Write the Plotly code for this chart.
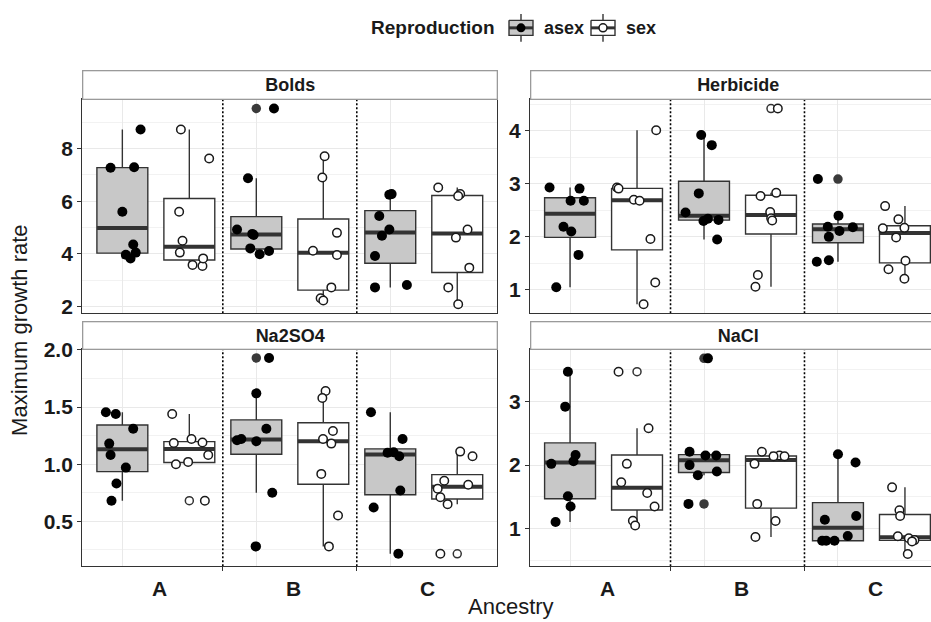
import numpy as np
import plotly.graph_objects as go

# ---------------------------------------------------------------------------
# Data: maximum growth rate per replicate line, grouped by ancestry (A, B, C)
# and reproduction mode.  *_jit is the horizontal jitter of each plotted point.
# ---------------------------------------------------------------------------
ANCESTRY = ["A", "B", "C"]
REPRODUCTION = ["asex", "sex"]
PANELS = ["Bolds", "Herbicide", "Na2SO4", "NaCl"]

bolds_asex = [
    [8.72, 7.27, 7.29, 5.60, 4.36, 4.05, 3.97, 3.83],
    [9.52, 6.87, 4.93, 4.76, 4.72, 4.21, 4.11, 3.99],
    [6.27, 6.25, 5.44, 4.93, 4.69, 3.92, 2.82, 2.73],
]
bolds_asex_jit = [
    [0.136, -0.088, 0.088, 0.000, 0.081, 0.100, 0.026, 0.061],
    [0.132, -0.062, -0.144, -0.030, -0.020, -0.045, 0.095, 0.025],
    [0.010, -0.007, -0.082, -0.007, -0.062, -0.114, 0.124, -0.114],
]
bolds_sex = [
    [8.72, 7.62, 5.60, 4.50, 4.05, 3.58, 3.54, 3.83],
    [7.71, 6.90, 4.80, 4.12, 3.96, 2.73, 2.32, 2.23],
    [6.52, 6.27, 6.20, 4.93, 4.62, 3.48, 2.73, 2.09],
]
bolds_sex_jit = [
    [-0.063, 0.148, -0.076, -0.051, -0.071, 0.024, 0.098, 0.103],
    [0.010, -0.007, 0.102, -0.077, 0.102, 0.060, -0.020, 0.000],
    [-0.142, 0.022, 0.007, 0.077, -0.010, 0.090, -0.067, 0.007],
]

herbicide_asex = [
    [2.93, 2.91, 2.68, 2.68, 2.19, 2.10, 1.66, 1.05],
    [3.92, 3.73, 2.82, 2.46, 2.34, 2.32, 2.30, 1.95],
    [3.09, 2.40, 2.19, 2.18, 2.11, 2.00, 1.56, 1.53],
]
herbicide_asex_jit = [
    [-0.153, 0.071, 0.004, 0.103, -0.049, 0.009, 0.063, -0.103],
    [-0.021, 0.058, -0.039, -0.138, 0.029, 0.108, -0.004, 0.098],
    [-0.150, 0.004, -0.076, 0.111, 0.011, -0.068, -0.068, -0.158],
]
herbicide_sex = [
    [4.01, 2.93, 2.91, 2.70, 2.68, 1.96, 1.14, 0.73],
    [4.42, 2.83, 2.77, 2.47, 2.35, 2.31, 1.28, 1.06],
    [2.58, 2.33, 2.17, 2.16, 1.99, 1.55, 1.39, 1.21],
]
herbicide_sex_jit = [
    [0.143, -0.150, -0.138, -0.024, 0.019, 0.100, 0.136, 0.049],
    [0.051, 0.039, -0.078, -0.006, 0.001, 0.009, -0.098, -0.116],
    [-0.148, -0.049, -0.004, -0.165, -0.066, 0.004, -0.123, -0.004],
]

na2so4_asex = [
    [1.455, 1.44, 1.31, 1.18, 1.08, 0.97, 0.83, 0.68],
    [1.93, 1.62, 1.31, 1.22, 1.21, 1.20, 0.75, 0.28],
    [1.455, 1.22, 1.105, 1.10, 1.07, 0.77, 0.62, 0.215],
]
na2so4_asex_jit = [
    [-0.123, -0.049, 0.081, -0.098, -0.088, 0.026, -0.044, -0.081],
    [0.095, 0.000, 0.075, -0.112, -0.144, 0.000, 0.119, -0.005],
    [-0.144, 0.092, 0.025, -0.020, 0.067, 0.075, -0.124, 0.060],
]
na2so4_sex = [
    [1.44, 1.22, 1.19, 1.185, 1.08, 1.02, 1.00, 0.68],
    [1.64, 1.58, 1.29, 1.22, 1.18, 0.915, 0.55, 0.28],
    [1.11, 1.07, 0.855, 0.82, 0.785, 0.71, 0.65, 0.215],
]
na2so4_sex_jit = [
    [-0.128, 0.016, 0.098, -0.116, 0.141, -0.009, -0.100, 0.116],
    [0.017, -0.007, 0.072, -0.002, 0.060, -0.015, 0.110, 0.042],
    [0.022, 0.114, -0.097, 0.082, -0.146, -0.126, -0.072, -0.126],
]

nacl_asex = [
    [3.47, 2.92, 2.16, 2.06, 2.02, 1.51, 1.35, 1.105],
    [3.68, 2.21, 2.15, 2.15, 2.00, 1.90, 1.84, 1.39],
    [2.17, 2.04, 1.20, 1.14, 0.885, 0.81, 0.81, 0.81],
]
nacl_asex_jit = [
    [-0.016, -0.036, 0.041, 0.026, -0.140, -0.016, 0.004, -0.108],
    [0.029, -0.108, 0.011, 0.091, -0.108, 0.096, -0.046, -0.116],
    [0.000, 0.131, 0.136, -0.098, 0.073, -0.118, -0.088, -0.026],
]
nacl_sex = [
    [3.47, 2.58, 2.02, 1.73, 1.56, 1.35, 1.125, 1.05],
    [2.21, 2.15, 2.14, 2.14, 2.02, 1.39, 1.12, 0.87],
    [1.65, 1.29, 1.20, 0.88, 0.85, 0.82, 0.80, 0.60],
]
nacl_sex_jit = [
    [-0.138, 0.086, -0.076, -0.118, 0.076, 0.131, -0.031, -0.014],
    [-0.068, 0.063, 0.019, 0.101, -0.123, -0.103, 0.034, -0.116],
    [-0.096, -0.041, -0.036, -0.053, 0.029, 0.071, 0.053, 0.021],
]

bolds_yticks = [2, 4, 6, 8]
herbicide_yticks = [1, 2, 3, 4]
na2so4_yticks = [0.5, 1.0, 1.5, 2.0]
nacl_yticks = [1, 2, 3]

# ---------------------------------------------------------------------------
# Look & geometry
# ---------------------------------------------------------------------------
W, H = 931, 622
FONT = "Liberation Sans, Arial, Helvetica, sans-serif"
INK = "#333333"
TXT = "#1a1a1a"
GRID = "#e9e9e9"
GRID_MINOR = "#f2f2f2"
STRIP_LINE = "#9a9a9a"
FILL = {"asex": "#c8c8c8", "sex": "#ffffff"}
DODGE = {"asex": -0.25, "sex": 0.25}
BOX_W = 0.38
TICK_FONT = dict(size=21, color=TXT, weight="bold")


def px(x):
    return x / W


def py(y):
    return 1 - y / H


COLS = [(82.3, 497.3), (530.0, 945.0)]           # panel left/right (px)
ROWS = [(91.2, 310.7), (347.2, 569.9)]           # panel top/bottom (px)
STRIP_TOP = [62.8, 319.3]
UNIT = (COLS[0][1] - COLS[0][0]) / 3.098          # px per ancestry step
X0 = 0.451
XLAB_Y, XTITLE_Y, YTITLE_Y = 592.7, 611.2, 327.8

panel_cfg = {
    "Bolds": dict(data=(bolds_asex, bolds_asex_jit, bolds_sex, bolds_sex_jit),
                  ticks=bolds_yticks, yr=[1.75, 9.88], minor=1.0, fmt="d", row=0, col=0),
    "Herbicide": dict(data=(herbicide_asex, herbicide_asex_jit, herbicide_sex, herbicide_sex_jit),
                      ticks=herbicide_yticks, yr=[0.56, 4.60], minor=0.5, fmt="d", row=0, col=1),
    "Na2SO4": dict(data=(na2so4_asex, na2so4_asex_jit, na2so4_sex, na2so4_sex_jit),
                   ticks=na2so4_yticks, yr=[0.107, 2.01], minor=0.25, fmt=".1f", row=1, col=0),
    "NaCl": dict(data=(nacl_asex, nacl_asex_jit, nacl_sex, nacl_sex_jit),
                 ticks=nacl_yticks, yr=[0.41, 3.83], minor=0.5, fmt="d", row=1, col=1),
}

fig = go.Figure()
layout = dict(
    width=W, height=H,
    margin=dict(l=0, r=0, t=0, b=0),
    paper_bgcolor="white", plot_bgcolor="white",
    showlegend=False,
    font=dict(family=FONT, color=TXT),
)
annotations = []

for k, name in enumerate(PANELS):
    cfg = panel_cfg[name]
    sfx = "" if k == 0 else str(k + 1)
    xa, ya = "x" + sfx, "y" + sfx
    left, right = COLS[cfg["col"]]
    top, bottom = ROWS[cfg["row"]]
    clipped = right > W                      # right-hand facets run off the page
    dom_right = min(right, W)
    xr = [X0, X0 + (dom_right - left) / UNIT]
    yr = cfg["yr"]
    is_bottom = cfg["row"] == 1

    # major x grid sits on the asexual boxes; group dividers carry the ticks
    layout["xaxis" + sfx] = dict(
        domain=[px(left), px(dom_right)], range=xr, anchor=ya,
        tickmode="array", tickvals=[i + 1 + DODGE["asex"] for i in range(len(ANCESTRY))],
        showticklabels=False, ticks="",
        showgrid=True, gridcolor=GRID, gridwidth=1.2, zeroline=False,
        showline=True, linecolor=INK, linewidth=1.4, mirror=True,
        minor=dict(tickmode="array", tickvals=[1.5, 2.5] if is_bottom else [],
                   ticks="outside" if is_bottom else "", ticklen=4,
                   tickcolor=INK, tickwidth=1, showgrid=False),
    )
    layout["yaxis" + sfx] = dict(
        domain=[py(bottom), py(top)], range=yr, anchor=xa,
        tickmode="array", tickvals=cfg["ticks"],
        ticktext=[format(t, cfg["fmt"]) if cfg["fmt"] != "d" else str(int(t)) for t in cfg["ticks"]],
        ticks="outside", ticklen=4, tickcolor=INK, tickwidth=1,
        tickfont=TICK_FONT,
        showgrid=True, gridcolor=GRID, gridwidth=1.2, zeroline=False,
        showline=True, linecolor=INK, linewidth=1.4, mirror=not clipped,
        minor=dict(dtick=cfg["minor"], tick0=0, showgrid=True,
                   gridcolor=GRID_MINOR, gridwidth=1, ticks=""),
    )

    # ancestry labels under the bottom row
    if is_bottom:
        for i, anc in enumerate(ANCESTRY):
            annotations.append(dict(text=anc, xref=xa, yref="paper", x=i + 1.03, y=py(XLAB_Y),
                                    showarrow=False, xanchor="center", yanchor="middle",
                                    font=TICK_FONT))

    # dotted dividers between ancestry groups
    dx, dy = [], []
    for xv in (1.5, 2.5):
        dx += [xv, xv, None]
        dy += [yr[0], yr[1], None]
    fig.add_trace(go.Scatter(x=dx, y=dy, mode="lines",
                             line=dict(color="black", width=1.6, dash="2px,2px"),
                             xaxis=xa, yaxis=ya, hoverinfo="skip"))

    # facet strip: a boxed label spanning the panel
    s_top = STRIP_TOP[cfg["row"]]
    annotations.append(dict(text="<b>%s</b>" % name, xref="paper", yref="paper",
                            x=px((left + right) / 2), y=py((top + s_top) / 2),
                            width=right - left - 1.3, height=top - s_top - 1.3,
                            bgcolor="white", bordercolor=STRIP_LINE, borderwidth=1.3,
                            borderpad=0, showarrow=False, font=dict(size=18, color=TXT),
                            xanchor="center", yanchor="middle", valign="middle"))

    asex_vals, asex_jit, sex_vals, sex_jit = cfg["data"]
    groups = {"asex": (asex_vals, asex_jit), "sex": (sex_vals, sex_jit)}

    for rep in REPRODUCTION:
        vals_by_anc, jit_by_anc = groups[rep]
        for g, anc in enumerate(ANCESTRY):
            v = np.asarray(vals_by_anc[g], dtype=float)
            pos = g + 1 + DODGE[rep]
            q1, med, q3 = np.percentile(v, [25, 50, 75])
            iqr = q3 - q1
            lo_lim, hi_lim = q1 - 1.5 * iqr, q3 + 1.5 * iqr
            inside = v[(v >= lo_lim) & (v <= hi_lim)]
            out = v[(v < lo_lim) | (v > hi_lim)]

            fig.add_trace(go.Box(
                x=[pos], q1=[q1], median=[med], q3=[q3],
                lowerfence=[inside.min()], upperfence=[inside.max()],
                width=BOX_W, whiskerwidth=0, boxpoints=False,
                fillcolor=FILL[rep], line=dict(color=INK, width=1.4),
                xaxis=xa, yaxis=ya, hoverinfo="skip", name=rep))
            fig.add_trace(go.Scatter(
                x=[pos - BOX_W / 2, pos + BOX_W / 2], y=[med, med], mode="lines",
                line=dict(color=INK, width=4), xaxis=xa, yaxis=ya, hoverinfo="skip"))
            if len(out):
                fig.add_trace(go.Scatter(
                    x=[pos] * len(out), y=out, mode="markers",
                    marker=dict(size=9.5 if rep == "asex" else 8,
                                color="#3a3a3a" if rep == "asex" else "white",
                                line=dict(color=INK, width=0 if rep == "asex" else 1.5)),
                    xaxis=xa, yaxis=ya, hoverinfo="skip"))

    for rep in REPRODUCTION:
        vals_by_anc, jit_by_anc = groups[rep]
        for g, anc in enumerate(ANCESTRY):
            v = np.asarray(vals_by_anc[g], dtype=float)
            xs = g + 1 + DODGE[rep] + np.asarray(jit_by_anc[g], dtype=float)
            fig.add_trace(go.Scatter(
                x=xs, y=v, mode="markers",
                marker=dict(size=10 if rep == "asex" else 8.5,
                            color="black" if rep == "asex" else "white",
                            line=dict(color="#1a1a1a", width=0 if rep == "asex" else 1.5)),
                xaxis=xa, yaxis=ya, hoverinfo="skip", name=rep))

# axis titles
annotations.append(dict(text="Maximum growth rate", xref="paper", yref="paper",
                        x=px(20), y=py(YTITLE_Y), textangle=-90, showarrow=False,
                        font=dict(size=22, color=TXT), xanchor="center", yanchor="middle"))
annotations.append(dict(text="Ancestry", xref="paper", yref="paper",
                        x=px(511), y=py(XTITLE_Y), showarrow=False,
                        font=dict(size=22, color=TXT), xanchor="center", yanchor="middle"))

# legend: title, then a small boxplot key per reproduction mode drawn on its own
# little pixel-scaled axis
LEG_Y = 18.3
LX0, LX1, LY0, LY1 = 500.0, 640.0, 0.0, 40.0
layout["xaxis5"] = dict(domain=[px(LX0), px(LX1)], range=[LX0, LX1], anchor="y5",
                        visible=False, fixedrange=True)
layout["yaxis5"] = dict(domain=[py(LY1), py(LY0)], range=[LY1, LY0], anchor="x5",
                        visible=False, fixedrange=True)
annotations.append(dict(text="<b>Reproduction</b>", xref="paper", yref="paper",
                        x=px(497), y=py(LEG_Y), showarrow=False, xanchor="right",
                        yanchor="middle", font=dict(size=19, color=TXT)))
for rep, kx, lx in (("asex", 521.0, 541.5), ("sex", 603.0, 624.0)):
    fig.add_trace(go.Scatter(x=[kx, kx], y=[LEG_Y - 14.3, LEG_Y + 14.3], mode="lines",
                             line=dict(color=INK, width=1.4),
                             xaxis="x5", yaxis="y5", hoverinfo="skip"))
    fig.add_trace(go.Scatter(x=[kx - 12, kx + 12, kx + 12, kx - 12, kx - 12],
                             y=[LEG_Y - 7.7, LEG_Y - 7.7, LEG_Y + 7.7, LEG_Y + 7.7, LEG_Y - 7.7],
                             mode="lines", fill="toself",
                             fillcolor=FILL[rep], line=dict(color=INK, width=1.4),
                             xaxis="x5", yaxis="y5", hoverinfo="skip"))
    fig.add_trace(go.Scatter(x=[kx - 12, kx + 12], y=[LEG_Y, LEG_Y], mode="lines",
                             line=dict(color=INK, width=3),
                             xaxis="x5", yaxis="y5", hoverinfo="skip"))
    fig.add_trace(go.Scatter(x=[kx], y=[LEG_Y], mode="markers",
                             marker=dict(size=9 if rep == "asex" else 8,
                                         color="black" if rep == "asex" else "white",
                                         line=dict(color="#1a1a1a",
                                                   width=0 if rep == "asex" else 1.5)),
                             xaxis="x5", yaxis="y5", hoverinfo="skip"))
    annotations.append(dict(text="<b>%s</b>" % rep, xref="paper", yref="paper",
                            x=px(lx), y=py(LEG_Y), showarrow=False, xanchor="left",
                            yanchor="middle", font=dict(size=18, color=TXT)))

layout["annotations"] = annotations
fig.update_layout(**layout)

# keep the page exactly the size of the figure (no body margin, no scrollbars)
PAGE_FIT = ("document.documentElement.style.margin='0';"
            "document.documentElement.style.overflow='hidden';"
            "document.body.style.margin='0';"
            "document.body.style.overflow='hidden';")
fig.write_html("out.html", post_script=PAGE_FIT)
